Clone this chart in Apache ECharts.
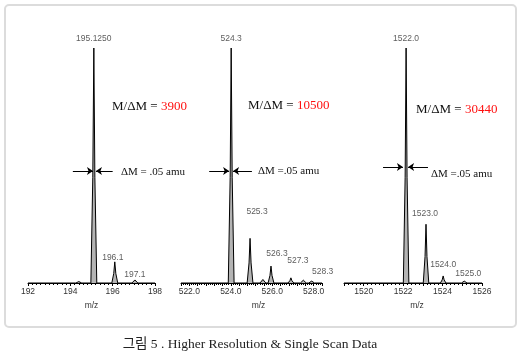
<!DOCTYPE html>
<html>
<head>
<meta charset="utf-8">
<script src="https://cdn.jsdelivr.net/npm/echarts@6/dist/echarts.min.js"></script>
<style>html,body{margin:0;padding:0;background:#fff}#c{width:522px;height:357px}</style>
</head>
<body>
<div id="c"></div>
<script>
// ---- data ----
const p1Mz = [194.4, 195.11, 196.1, 197.05];
const p1Int = [0.6, 100, 9, 1.3];
const p1Lab = ['', '195.1250', '196.1', '197.1'];

const p2Mz = [524.02, 524.93, 525.55, 525.94, 526.9, 527.5, 527.9];
const p2Int = [100, 19, 1.5, 7.2, 2.2, 1.2, 0.8];
const p2Lab = ['524.3', '525.3', '', '526.3', '527.3', '', '528.3'];

const p3Mz = [1522.15, 1523.16, 1524.03, 1525.1];
const p3Int = [100, 25, 3, 0.8];
const p3Lab = ['1522.0', '1523.0', '1524.0', '1525.0'];

const resolutions = ['3900', '10500', '30440'];
const deltaTexts = ['\u0394M = .05 amu', '\u0394M =.05 amu', '\u0394M =.05 amu'];
const caption = '\uADF8\uB9BC 5 . Higher Resolution & Single Scan Data';

// ---- styles ----
const labelStyle1 = [null, [0, 5], [-2, 0], [0, 1]];
const labelStyle2 = [[0, 5], [7, 22], null, [6, 8], [7, 13], null, [11, 5]];
const labelStyle3 = [[0, 5], [-1, 6], [0, 7], [4, 3]];
const HW = 0.14;      // peak base half-width (axis units)
const SHOULDER = [0.35, 0.45]; // shoulder: fraction of half-width, fraction of height

function profile(mz, inten, min, max) {
  const pts = [[min, 0]];
  mz.forEach((c, i) => {
    const h = inten[i];
    pts.push([c - HW, 0], [c - HW * SHOULDER[0], h * SHOULDER[1]], [c, h],
             [c + HW * SHOULDER[0], h * SHOULDER[1]], [c + HW, 0]);
  });
  pts.push([max, 0]);
  return pts;
}
function labelData(mz, inten, lab, st) {
  const out = [];
  mz.forEach((c, i) => {
    if (!lab[i]) return;
    out.push({ value: [c, inten[i]], label: { show: true, position: 'top', distance: st[i][1], offset: [st[i][0], 0], formatter: lab[i] } });
  });
  return out;
}

const axisFont = { fontFamily: 'Liberation Sans', fontSize: 8.5, color: '#333' };
function xAxis(grid, min, max, interval, split, fmt, namePad) {
  return {
    type: 'value', gridIndex: grid, min: min, max: max, interval: interval,
    name: 'm/z', nameLocation: 'middle', nameGap: 13,
    nameTextStyle: Object.assign({ padding: namePad }, axisFont),
    axisLine: { show: true, onZero: false, lineStyle: { color: '#000', width: 1 } },
    axisTick: { show: true, length: 3, lineStyle: { color: '#000' } },
    minorTick: { show: true, splitNumber: split, length: 2, lineStyle: { color: '#000' } },
    splitLine: { show: false }, minorSplitLine: { show: false },
    axisLabel: Object.assign({ margin: 4, formatter: fmt, showMinLabel: true, showMaxLabel: true }, axisFont)
  };
}
const evenFmt = (digits) => (v) => {
  const r = Math.round(v);
  if (Math.abs(v - r) > 1e-6 || r % 2 !== 0) return '';
  return r.toFixed(digits);
};

function yAxis(grid) {
  return { type: 'value', gridIndex: grid, min: 0, max: 100, show: false };
}

function arrows(y, a1, t1, t2, a2) {
  return {
    silent: true, symbol: ['none', 'arrow'], symbolSize: [6, 6],
    lineStyle: { color: '#000', width: 1, type: 'solid' }, label: { show: false },
    data: [
      [{ coord: [a1, y] }, { coord: [t1, y] }],
      [{ coord: [a2, y] }, { coord: [t2, y] }]
    ]
  };
}

function specSeries(idx, data, ml) {
  return {
    type: 'line', xAxisIndex: idx, yAxisIndex: idx, data: data, symbol: 'none',
    lineStyle: { color: '#000', width: 1 }, areaStyle: { color: '#b4b4b4', opacity: 1 },
    markLine: ml, z: 3
  };
}
function labSeries(idx, data) {
  return {
    type: 'scatter', xAxisIndex: idx, yAxisIndex: idx, data: data, symbolSize: 0, silent: true,
    label: Object.assign({ show: true }, axisFont), z: 4
  };
}

const serif = 'Liberation Serif';
function resText(x, y, val) {
  return {
    type: 'text', style: {
      x: x, y: y, text: '{a|M/\u0394M = }{b|' + val + '}', verticalAlign: 'middle',
      rich: {
        a: { fontFamily: serif, fontSize: 13, fill: '#111' },
        b: { fontFamily: serif, fontSize: 13, fill: '#ff1010' }
      }
    }
  };
}
function dText(x, y, t) {
  return { type: 'text', style: { x: x, y: y, text: t, verticalAlign: 'middle', fontFamily: serif, fontSize: 11, fill: '#111' } };
}

const chart = echarts.init(document.getElementById('c'), null, { renderer: 'canvas' });
chart.setOption({
  animation: false,
  backgroundColor: '#fff',
  grid: [
    { left: 28, top: 48, width: 127, height: 235 },
    { left: 181, top: 48, width: 141, height: 235 },
    { left: 344, top: 48, width: 138, height: 235 }
  ],
  xAxis: [
    xAxis(0, 192, 198, 2, 10, (v) => String(v), [0, 0, 0, 0]),
    xAxis(1, 521.6, 528.4, 0.4, 4, evenFmt(1), [0, 0, 0, 14]),
    xAxis(2, 1519, 1526, 1, 5, evenFmt(0), [0, 0, 0, 8])
  ],
  yAxis: [yAxis(0), yAxis(1), yAxis(2)],
  series: [
    specSeries(0, profile(p1Mz, p1Int, 192, 198), arrows(47.7, 194.12, 195.07, 195.21, 196.0)),
    specSeries(1, profile(p2Mz, p2Int, 521.6, 528.4), arrows(47.7, 522.96, 523.92, 524.11, 525.02)),
    specSeries(2, profile(p3Mz, p3Int, 1519, 1526), arrows(49.4, 1520.98, 1521.99, 1522.25, 1523.26)),
    labSeries(0, labelData(p1Mz, p1Int, p1Lab, labelStyle1)),
    labSeries(1, labelData(p2Mz, p2Int, p2Lab, labelStyle2)),
    labSeries(2, labelData(p3Mz, p3Int, p3Lab, labelStyle3))
  ],
  graphic: [
    { type: 'rect', shape: { x: 5, y: 5, width: 511, height: 322, r: 4 }, style: { fill: 'none', stroke: '#dcdcdc', lineWidth: 2 }, z: -1 },
    resText(112, 107, resolutions[0]),
    resText(248, 106, resolutions[1]),
    resText(416, 110, resolutions[2]),
    dText(121, 172, deltaTexts[0]),
    dText(258, 171, deltaTexts[1]),
    dText(431, 174, deltaTexts[2]),
    { type: 'text', style: { x: 250, y: 344, text: caption, align: 'center', verticalAlign: 'middle', fontFamily: "'Liberation Serif', 'Noto Sans CJK KR'", fontSize: 13.5, fill: '#222' } }
  ]
});
</script>
</body>
</html>
